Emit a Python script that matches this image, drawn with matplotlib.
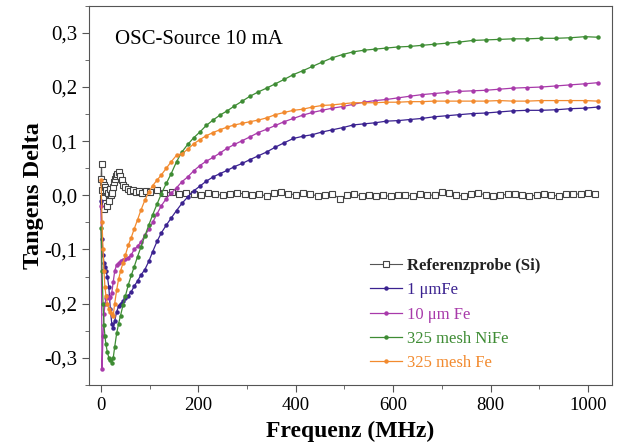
import matplotlib
matplotlib.use("Agg")
import matplotlib.pyplot as plt
from matplotlib.ticker import MultipleLocator, FuncFormatter

plt.rcParams['font.family'] = ['Liberation Serif', 'DejaVu Serif']

# frequency grid (MHz) for the four sample curves
freq = [0, 2, 4, 6, 8, 10, 13, 16, 19, 22, 25, 28, 32, 36, 40, 45, 50, 56, 62, 68,
        75, 82, 90, 98, 106, 115, 124, 134, 144, 155, 166, 178, 190, 203, 216, 230,
        244, 259, 274, 290, 306, 323, 340, 358, 376, 395, 414, 434, 454, 475, 496,
        518, 540, 563, 586, 610, 634, 659, 684, 710, 736, 763, 790, 818, 846, 875,
        904, 934, 964, 994, 1020]

fe_1um = [-0.01, -0.08, -0.11, -0.125, -0.133, -0.14, -0.15, -0.17, -0.21, -0.237,
          -0.245, -0.232, -0.215, -0.205, -0.2, -0.196, -0.19, -0.185, -0.178, -0.168,
          -0.158, -0.147, -0.137, -0.122, -0.104, -0.085, -0.069, -0.055, -0.042, -0.028,
          -0.015, -0.003, 0.008, 0.017, 0.026, 0.034, 0.04, 0.046, 0.053, 0.059,
          0.066, 0.073, 0.08, 0.089, 0.097, 0.105, 0.109, 0.112, 0.117, 0.121,
          0.125, 0.13, 0.132, 0.134, 0.137, 0.138, 0.14, 0.142, 0.145, 0.147,
          0.149, 0.151, 0.152, 0.154, 0.156, 0.157, 0.157, 0.158, 0.16, 0.161, 0.163]

fe_10um = [-0.02, -0.32, -0.26, -0.22, -0.2, -0.19, -0.185, -0.19, -0.188, -0.18,
           -0.16, -0.14, -0.128, -0.125, -0.122, -0.12, -0.118, -0.115, -0.11, -0.1,
           -0.094, -0.086, -0.074, -0.063, -0.05, -0.034, -0.019, -0.006, 0.004, 0.014,
           0.025, 0.034, 0.045, 0.055, 0.063, 0.07, 0.078, 0.087, 0.094, 0.101,
           0.108, 0.116, 0.122, 0.129, 0.136, 0.142, 0.148, 0.153, 0.157, 0.161,
           0.164, 0.168, 0.172, 0.175, 0.177, 0.18, 0.183, 0.186, 0.188, 0.19,
           0.192, 0.193, 0.194, 0.196, 0.198, 0.199, 0.2, 0.202, 0.204, 0.206, 0.208]

nife_325 = [-0.06, -0.14, -0.2, -0.24, -0.26, -0.275, -0.29, -0.3, -0.305, -0.31,
            -0.3, -0.28, -0.255, -0.237, -0.222, -0.203, -0.186, -0.165, -0.148, -0.132,
            -0.113, -0.095, -0.075, -0.055, -0.036, -0.016, 0.003, 0.022, 0.04, 0.062,
            0.08, 0.094, 0.106, 0.117, 0.129, 0.139, 0.148, 0.156, 0.165, 0.174,
            0.183, 0.191, 0.198, 0.206, 0.214, 0.223, 0.23, 0.238, 0.246, 0.254,
            0.26, 0.265, 0.268, 0.27, 0.272, 0.274, 0.275, 0.277, 0.279, 0.281,
            0.283, 0.286, 0.287, 0.288, 0.289, 0.289, 0.29, 0.29, 0.291, 0.293, 0.292]

fe_325 = [0.028, -0.05, -0.1, -0.14, -0.17, -0.185, -0.2, -0.21, -0.215, -0.22,
          -0.222, -0.2, -0.175, -0.155, -0.14, -0.125, -0.11, -0.092, -0.078, -0.062,
          -0.045, -0.027, -0.009, 0.006, 0.018, 0.028, 0.038, 0.05, 0.062, 0.074,
          0.077, 0.085, 0.095, 0.103, 0.11, 0.116, 0.121, 0.126, 0.13, 0.133,
          0.136, 0.139, 0.143, 0.149, 0.153, 0.157, 0.159, 0.163, 0.166, 0.167,
          0.169, 0.171, 0.171, 0.171, 0.172, 0.172, 0.173, 0.173, 0.174, 0.174,
          0.174, 0.174, 0.174, 0.175, 0.174, 0.174, 0.175, 0.175, 0.175, 0.175, 0.174]

# reference sample (Si)
freq_ref = [0, 1, 2, 3, 4, 5, 6, 7, 8, 9, 10, 12, 14, 16, 18, 20, 22, 24, 26, 28,
            30, 33, 36, 39, 42, 46, 50, 55, 60, 66, 72, 78, 85, 92, 100,
            115, 130, 145, 160, 175, 190, 205, 220, 235, 250, 265, 280, 295, 310,
            325, 340, 355, 370, 385, 400, 415, 430, 445, 460, 475, 490, 505, 520,
            535, 550, 565, 580, 595, 610, 625, 640, 655, 670, 685, 700, 715, 730,
            745, 760, 775, 790, 805, 820, 835, 850, 865, 880, 895, 910, 925, 940,
            955, 970, 985, 1000, 1015]
ref_si = [0.03, 0.058, 0.01, -0.02, 0.025, -0.005, 0.02, -0.025, 0.015, -0.015,
          0.01, -0.02, 0.005, -0.01, 0.012, 0.0, 0.005, 0.015, 0.025, 0.03,
          0.035, 0.04, 0.043, 0.035, 0.028, 0.02, 0.015, 0.012, 0.008, 0.01,
          0.006, 0.008, 0.005, 0.008, 0.006,
          0.009, 0.004, 0.006, 0.002, 0.005, 0.003, 0.001, 0.004, 0.002, 0.0,
          0.003, 0.005, 0.002, 0.0, 0.003, -0.002, 0.004, 0.006, 0.003, 0.001,
          0.004, 0.002, -0.001, 0.001, 0.003, -0.006, 0.0, 0.002, -0.001, 0.001,
          -0.002, 0.0, -0.002, 0.001, 0.0, -0.001, 0.003, 0.001, 0.0, 0.006,
          0.004, 0.0, -0.001, 0.002, 0.004, 0.001, -0.001, 0.0, 0.002, 0.003,
          0.0, -0.002, 0.001, 0.002, 0.0, -0.001, 0.002, 0.003, 0.002, 0.004, 0.003]

labels = ["Referenzprobe (Si)", "1 \u03bcmFe", "10 \u03bcm Fe", "325 mesh NiFe", "325 mesh Fe"]
colors = ["#555555", "#3b2290", "#a83aaa", "#3e8c34", "#f28a2e"]

fig = plt.figure(figsize=(6.26, 4.47), dpi=100)
ax = fig.add_axes([0.142, 0.139, 0.836, 0.848])

ax.plot(freq_ref, ref_si, color=colors[0], lw=0.8, marker='s', ms=4.5,
        mfc='white', mec='#444444', mew=0.8, label=labels[0], zorder=2)
for ys, c, lab in zip([fe_1um, fe_10um, nife_325, fe_325], colors[1:], labels[1:]):
    ax.plot(freq, ys, color=c, lw=0.9, marker='o', ms=2.2, mec=c, mfc=c,
            label=lab, zorder=3)

ax.set_xlim(-25, 1050)
ax.set_ylim(-0.35, 0.35)
ax.xaxis.set_major_locator(MultipleLocator(200))
ax.xaxis.set_minor_locator(MultipleLocator(100))
ax.yaxis.set_major_locator(MultipleLocator(0.1))
ax.yaxis.set_minor_locator(MultipleLocator(0.05))
ax.yaxis.set_major_formatter(FuncFormatter(lambda v, p: f"{v:.1f}".replace('.', ',').replace('-0,0', '0,0')))
ax.tick_params(which='both', direction='out', top=False, right=False,
               color='#555555')
ax.tick_params(axis='x', labelsize=13.5)
ax.tick_params(axis='y', labelsize=15)
ax.tick_params(which='major', length=5)
ax.tick_params(which='minor', length=3)
for s in ax.spines.values():
    s.set_color('#555555')

ax.set_xlabel("Frequenz (MHz)", fontsize=17, fontweight='bold', labelpad=5)
ax.set_ylabel("Tangens Delta", fontsize=17.5, fontweight='bold', labelpad=0)

ax.text(0.05, 0.91, "OSC-Source 10 mA", transform=ax.transAxes, fontsize=15,
        va='center', ha='left')

leg = ax.legend(loc='upper left', bbox_to_anchor=(0.537, 0.335), frameon=False,
                fontsize=12, handlelength=1.9, handletextpad=0.3,
                labelspacing=0.5, borderaxespad=0.0, borderpad=0.0)
for txt, c in zip(leg.get_texts(), ['#222222'] + colors[1:]):
    txt.set_color(c)
leg.get_texts()[0].set_fontweight('bold')

fig.savefig("out.png", dpi=100)
